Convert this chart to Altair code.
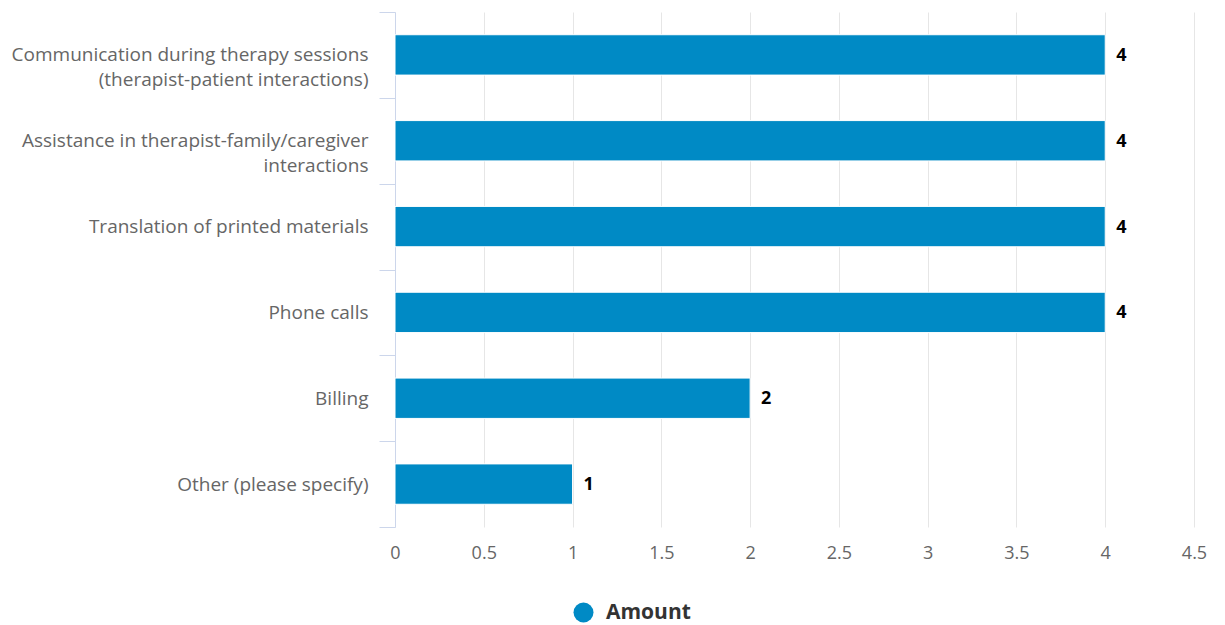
import altair as alt
import pandas as pd

categories = [
    "Communication during therapy sessions\n(therapist-patient interactions)",
    "Assistance in therapist-family/caregiver\ninteractions",
    "Translation of printed materials",
    "Phone calls",
    "Billing",
    "Other (please specify)",
]
values = [4, 4, 4, 4, 2, 1]
series = ["Amount"] * len(values)
x_ticks = [0, 0.5, 1, 1.5, 2, 2.5, 3, 3.5, 4, 4.5]

df = pd.DataFrame({"category": categories, "value": values, "series": series})

FONT = "Open Sans"
BLUE = "#008AC5"

y_enc = alt.Y(
    "category:N",
    sort=categories,
    title=None,
    scale=alt.Scale(paddingInner=0, paddingOuter=0),
    axis=alt.Axis(
        tickBand="extent",
        tickSize=16,
        tickColor="#ccd6eb",
        domainColor="#ccd6eb",
        labelColor="#666666",
        labelFont=FONT,
        labelFontSize=19,
        labelPadding=11,
        labelLineHeight=25,
        labelLimit=400,
        labelExpr="split(datum.label, '\\n')",
        grid=False,
    ),
)

x_enc = alt.X(
    "value:Q",
    title=None,
    scale=alt.Scale(domain=[0, 4.5], nice=False),
    axis=alt.Axis(
        values=x_ticks,
        format="~g",
        domain=False,
        ticks=False,
        grid=True,
        gridColor="#e6e6e6",
        labelColor="#666666",
        labelFont=FONT,
        labelFontSize=18,
        labelPadding=17,
        labelFlush=False,
    ),
)

bars = alt.Chart(df).mark_bar(
    height={"band": 0.47}, stroke="white", strokeWidth=1
).encode(
    y=y_enc,
    x=x_enc,
    color=alt.Color(
        "series:N",
        scale=alt.Scale(range=[BLUE]),
        legend=alt.Legend(
            title=None,
            orient="none",
            legendX=178,
            legendY=590,
            symbolType="circle",
            symbolSize=400,
            symbolStrokeWidth=0,
            labelFont=FONT,
            labelFontSize=21,
            labelFontWeight="bold",
            labelColor="#333333",
            labelOffset=12,
        ),
    ),
)

halo = alt.Chart(df).mark_text(
    align="left", baseline="middle", dx=11, dy=1, font=FONT, fontSize=18,
    fontWeight="bold", stroke="white", strokeWidth=4, color="white",
).encode(y=alt.Y("category:N", sort=categories), x="value:Q", text="value:Q")

labels = alt.Chart(df).mark_text(
    align="left", baseline="middle", dx=11, dy=1, font=FONT, fontSize=18,
    fontWeight="bold", color="#000000",
).encode(y=alt.Y("category:N", sort=categories), x="value:Q", text="value:Q")

chart = alt.layer(bars, halo, labels).properties(
    width=799,
    height=515,
    background="white",
    autosize=alt.AutoSizeParams(type="none"),
    padding={"left": 395, "top": 12, "right": 31, "bottom": 98},
).configure_view(stroke=None)

chart.save("out.html", embed_options={"renderer": "svg", "actions": False})
